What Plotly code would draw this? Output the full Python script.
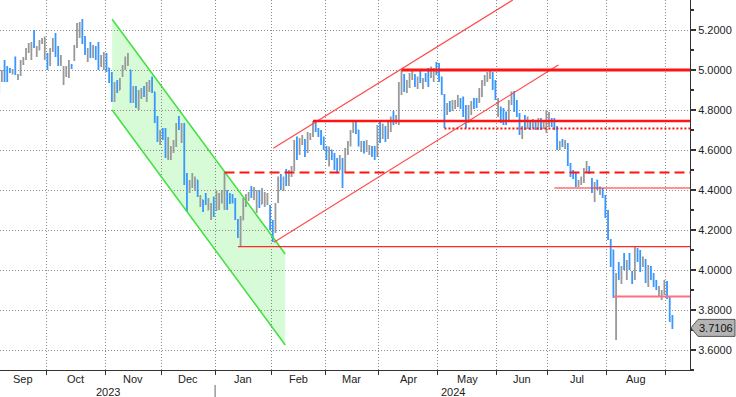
import pandas as pd
import plotly.graph_objects as go

# ---------------- data ----------------
holidays = ["2023-11-23", "2023-12-25", "2024-01-01", "2024-01-15", "2024-02-19",
            "2024-03-29", "2024-05-27", "2024-06-19", "2024-07-04", "2024-09-02"]
dates = pd.bdate_range("2023-09-06", "2024-09-05", freq="C", holidays=holidays)

bar_open = [
 4.90,4.95,5.04,5.01,5.005,4.98,5.06,4.955,4.975,5.03,5.06,5.09,5.06,5.19,5.07,5.10,5.135,5.06,
 5.08,5.03,5.10,5.18,5.10,5.03,4.94,4.97,4.97,5.025,5.05,5.12,5.17,5.25,5.165,5.05,5.13,5.07,5.11,5.13,5.02,5.03,
 5.08,5.01,4.98,4.86,4.94,4.90,4.97,5.01,5.03,5.00,4.84,4.91,4.82,4.86,4.915,4.86,4.90,4.96,4.89,4.76,4.63,
 4.70,4.70,4.56,4.56,4.59,4.62,4.765,4.64,4.73,4.48,4.39,4.42,4.40,4.45,4.32,4.35,4.38,4.30,4.26,4.36,
 4.30,4.32,4.34,4.32,4.39,4.38,4.37,4.35,4.25,4.15,4.25,4.33,4.35,4.415,4.37,4.29,4.39,4.33,4.32,4.33,4.32,
 4.24,4.19,4.34,4.475,4.40,4.50,4.43,4.475,4.50,4.66,4.58,4.63,4.65,4.59,4.655,4.68,4.735,4.705,4.69,4.66,
 4.615,4.53,4.60,4.565,4.55,4.50,4.555,4.50,4.595,4.63,4.69,4.73,4.70,4.60,4.64,4.595,4.58,4.615,4.61,4.57,
 4.72,4.66,4.715,4.66,4.70,4.79,4.74,4.75,4.88,4.975,4.89,4.93,4.955,4.975,4.91,4.99,4.91,4.98,4.99,4.965,4.95,5.035,
 5.03,4.96,4.875,4.78,4.84,4.80,4.815,4.82,4.855,4.86,4.80,4.74,4.78,4.855,4.85,4.84,4.87,4.93,4.95,4.96,4.98,4.94,
 4.775,4.81,4.795,4.78,4.745,4.83,4.88,4.82,4.78,4.665,4.765,4.71,4.745,4.715,4.745,4.705,4.75,4.71,4.70,
 4.745,4.755,4.75,4.715,4.605,4.65,4.61,4.63,4.53,4.495,4.485,4.42,4.43,4.44,4.49,4.515,4.455,4.36,4.45,4.38,4.405,4.37,
 4.27,4.15,4.10,3.88,4.035,3.935,4.07,3.96,4.08,3.99,3.955,4.105,4.09,4.02,4.05,3.92,4.015,3.98,3.945,3.87,3.86,3.88,
 3.94,3.86,3.77]
bar_high = [
 5.02,5.00,5.05,5.02,5.01,5.005,5.067,4.98,5.05,5.065,5.11,5.135,5.14,5.20,5.12,5.15,5.16,5.167,
 5.085,5.11,5.16,5.185,5.12,5.075,5.02,5.02,5.05,5.03,5.125,5.235,5.24,5.255,5.17,5.11,5.14,5.125,5.12,5.14,5.075,5.09,
 5.085,5.01,4.99,4.94,4.95,4.96,5.025,5.067,5.085,5.00,4.92,4.92,4.90,4.91,4.92,4.94,4.95,4.967,4.89,4.77,4.70,
 4.71,4.71,4.665,4.62,4.65,4.735,4.77,4.735,4.735,4.485,4.45,4.485,4.467,4.45,4.375,4.35,4.385,4.36,4.335,4.367,
 4.40,4.385,4.40,4.487,4.40,4.385,4.38,4.36,4.255,4.27,4.36,4.38,4.39,4.42,4.415,4.40,4.40,4.41,4.39,4.385,4.325,
 4.25,4.335,4.467,4.48,4.467,4.505,4.50,4.52,4.65,4.667,4.66,4.675,4.655,4.69,4.685,4.745,4.74,4.71,4.70,4.667,
 4.62,4.617,4.60,4.585,4.56,4.575,4.56,4.61,4.645,4.70,4.742,4.74,4.70,4.645,4.645,4.65,4.625,4.62,4.62,4.725,
 4.74,4.733,4.72,4.75,4.767,4.795,4.775,4.94,5.00,4.98,4.95,4.985,5.00,4.98,4.967,4.995,4.96,4.985,5.01,5.017,5.01,5.04,
 5.035,4.967,4.88,4.835,4.845,4.85,4.85,4.875,4.86,4.867,4.825,4.825,4.845,4.86,4.86,4.91,4.95,4.975,4.99,4.995,4.99,4.95,
 4.86,4.817,4.81,4.792,4.85,4.893,4.895,4.85,4.785,4.72,4.775,4.767,4.75,4.755,4.75,4.76,4.76,4.75,4.80,
 4.79,4.76,4.76,4.72,4.645,4.655,4.65,4.635,4.535,4.50,4.49,4.45,4.467,4.51,4.545,4.52,4.46,4.44,4.45,4.417,4.41,4.375,
 4.30,4.155,4.10,3.985,4.04,4.02,4.085,4.05,4.085,3.995,4.117,4.11,4.10,4.067,4.055,4.025,4.02,3.985,3.95,3.92,3.90,3.95,
 3.945,3.865,3.775]
bar_low = [
 4.88,4.94,4.94,4.94,4.985,4.98,4.975,4.95,4.97,5.025,5.05,5.085,5.05,5.11,5.065,5.10,5.13,5.05,
 5.00,5.02,5.09,5.065,5.02,5.02,4.925,4.965,4.96,5.005,5.045,5.11,5.16,5.13,5.075,5.04,5.06,5.06,5.05,5.00,5.015,5.00,
 4.99,4.935,4.84,4.84,4.885,4.90,4.965,5.00,5.02,4.835,4.835,4.81,4.80,4.855,4.865,4.84,4.89,4.885,4.735,4.64,4.625,
 4.65,4.56,4.55,4.55,4.585,4.615,4.70,4.635,4.425,4.29,4.385,4.41,4.40,4.365,4.315,4.29,4.325,4.30,4.25,4.265,
 4.295,4.30,4.333,4.30,4.30,4.33,4.333,4.25,4.16,4.12,4.25,4.315,4.345,4.36,4.35,4.285,4.31,4.33,4.315,4.325,4.20,
 4.14,4.185,4.335,4.40,4.395,4.42,4.42,4.465,4.495,4.55,4.575,4.625,4.565,4.585,4.65,4.665,4.69,4.665,4.625,4.60,
 4.55,4.517,4.55,4.50,4.483,4.50,4.41,4.49,4.575,4.617,4.685,4.68,4.617,4.59,4.583,4.59,4.575,4.565,4.55,4.565,
 4.635,4.655,4.64,4.655,4.69,4.725,4.73,4.725,4.875,4.89,4.885,4.91,4.95,4.915,4.905,4.935,4.905,4.94,4.915,4.96,4.94,4.975,
 4.94,4.875,4.71,4.775,4.79,4.795,4.805,4.815,4.805,4.765,4.71,4.735,4.775,4.805,4.81,4.835,4.865,4.92,4.94,4.955,4.90,4.85,
 4.765,4.735,4.725,4.725,4.74,4.825,4.79,4.765,4.675,4.655,4.70,4.705,4.70,4.71,4.70,4.70,4.70,4.705,4.685,
 4.715,4.715,4.70,4.60,4.60,4.615,4.605,4.52,4.465,4.455,4.415,4.415,4.425,4.435,4.485,4.48,4.385,4.34,4.40,4.375,4.36,4.26,
 4.15,4.015,3.86,3.65,3.95,3.93,4.00,3.95,4.00,3.93,3.95,4.04,3.99,4.015,3.935,3.915,3.95,3.915,3.90,3.865,3.85,3.875,
 3.855,3.74,3.705]
bar_close = [
 5.00,4.99,4.96,4.96,4.99,5.00,4.99,4.975,5.04,5.06,5.10,5.125,5.13,5.12,5.11,5.14,5.155,5.10,
 5.02,5.10,5.15,5.08,5.03,5.06,4.99,5.00,5.04,5.01,5.115,5.22,5.23,5.15,5.09,5.10,5.07,5.11,5.06,5.01,5.065,5.08,
 5.00,4.95,4.86,4.92,4.90,4.95,5.015,5.06,5.075,4.85,4.91,4.82,4.88,4.905,4.875,4.92,4.94,4.90,4.75,4.65,4.69,
 4.66,4.57,4.64,4.60,4.62,4.72,4.71,4.72,4.44,4.31,4.44,4.47,4.45,4.375,4.36,4.30,4.335,4.35,4.32,4.28,
 4.385,4.37,4.39,4.40,4.32,4.34,4.34,4.26,4.17,4.25,4.35,4.37,4.385,4.37,4.40,4.39,4.33,4.40,4.38,4.37,4.21,
 4.16,4.32,4.45,4.41,4.455,4.44,4.49,4.51,4.63,4.57,4.65,4.67,4.58,4.68,4.68,4.73,4.70,4.675,4.635,4.61,
 4.56,4.60,4.555,4.51,4.50,4.56,4.50,4.60,4.635,4.69,4.735,4.69,4.625,4.635,4.595,4.64,4.615,4.575,4.56,4.71,
 4.65,4.72,4.65,4.74,4.755,4.745,4.765,4.93,4.99,4.91,4.94,4.975,4.995,4.925,4.96,4.945,4.95,4.95,4.93,5.01,5.00,4.985,
 4.95,4.885,4.76,4.825,4.80,4.84,4.845,4.865,4.815,4.78,4.73,4.815,4.835,4.815,4.82,4.90,4.94,4.965,4.98,4.985,4.91,4.86,
 4.80,4.745,4.735,4.74,4.84,4.885,4.80,4.775,4.69,4.71,4.72,4.755,4.71,4.745,4.71,4.745,4.71,4.745,4.75,
 4.78,4.725,4.71,4.61,4.635,4.625,4.645,4.53,4.48,4.465,4.425,4.445,4.46,4.50,4.535,4.49,4.395,4.43,4.41,4.41,4.37,4.27,
 4.16,4.02,3.87,3.97,3.96,4.01,4.01,4.04,4.01,3.94,4.10,4.05,4.00,4.06,3.945,4.01,3.96,3.925,3.91,3.91,3.89,3.94,
 3.865,3.76,3.7106]

last_price = 3.7106

# drawn studies (index of trading day, price)
green_channel_x = [42.1, 106.65]
green_upper_y = [5.254, 4.08]
green_lower_y = [4.80, 3.625]
red_upper_x = [102.2, 191.5]
red_upper_y = [4.6085, 5.35]
red_lower_x = [102.45, 208.46]
red_lower_y = [4.1385, 5.025]
level_values = [5.0, 4.745, 4.708, 4.487, 4.41, 4.117, 3.867]
level_starts = [150, 117, 166, 84, 207, 89, 229]

month_labels = ["Sep", "Oct", "Nov", "Dec", "Jan", "Feb", "Mar", "Apr", "May", "Jun", "Jul", "Aug"]
year_labels = ["2023", "2024"]

# ---------------- figure ----------------
n = len(dates)
assert n == len(bar_open) == len(bar_high) == len(bar_low) == len(bar_close), (n, len(bar_open), len(bar_high), len(bar_low), len(bar_close))
x = list(range(n))

X0, X1 = 0.3, 257.56
Y0, Y1 = 3.5, 5.35
PLOT_W, PLOT_H = 690, 370
FONT = "Liberation Sans, Arial, sans-serif"

def px(i):
    return (i - X0) / (X1 - X0)

def py(v):
    return (v - Y0) / (Y1 - Y0)

bounds = [i - 0.5 for i in range(1, n) if dates[i].month != dates[i - 1].month]
jan_bound = [i - 0.5 for i in range(1, n) if dates[i].month == 1 and dates[i - 1].month == 12][0]

fig = go.Figure()
fig.add_trace(go.Ohlc(
    x=x, open=bar_open, high=bar_high, low=bar_low, close=bar_close,
    increasing=dict(line=dict(color="#999999", width=1.8)),
    decreasing=dict(line=dict(color="#3898ff", width=1.8)),
    tickwidth=0.3, hoverinfo="skip", showlegend=False,
))

shapes = []
# green channel fill + edges
gx0, gx1 = green_channel_x
shapes.append(dict(type="path", xref="x", yref="y", layer="below",
                   path=f"M {gx0},{green_upper_y[0]} L {gx1},{green_upper_y[1]} L {gx1},{green_lower_y[1]} L {gx0},{green_lower_y[0]} Z",
                   fillcolor="#d6fbd6", line=dict(width=0)))
for ys in (green_upper_y, green_lower_y):
    shapes.append(dict(type="line", xref="x", yref="y", x0=gx0, x1=gx1, y0=ys[0], y1=ys[1],
                       line=dict(color="#3fe03f", width=1.5), layer="above"))
# red channel
shapes.append(dict(type="line", xref="x", yref="y", x0=red_upper_x[0], x1=red_upper_x[1],
                   y0=red_upper_y[0], y1=red_upper_y[1], line=dict(color="#ff4a4a", width=1.2)))
shapes.append(dict(type="line", xref="x", yref="y", x0=red_lower_x[0], x1=red_lower_x[1],
                   y0=red_lower_y[0], y1=red_lower_y[1], line=dict(color="#ff4a4a", width=1.2)))
# horizontal levels
level_styles = [
    dict(color="#ff1414", width=3, dash="solid"),
    dict(color="#ff1414", width=2.6, dash="solid"),
    dict(color="#ff1414", width=2, dash="2px,2px"),
    dict(color="#ff1414", width=2, dash="10px,5px"),
    dict(color="#ff2828", width=1.1, dash="solid"),
    dict(color="#ff2828", width=1.3, dash="solid"),
    dict(color="#ff7080", width=2, dash="solid"),
]
for v, s, st in zip(level_values, level_starts, level_styles):
    shapes.append(dict(type="line", xref="x", yref="y", x0=s, x1=X1, y0=v, y1=v, line=st))

# last price tag (paper coords)
yc = py(last_price)
hh = 8.5 / PLOT_H
shapes.append(dict(type="path", xref="paper", yref="paper",
                   path=(f"M {691/PLOT_W},{yc} L {698/PLOT_W},{yc+hh} L {735/PLOT_W},{yc+hh} "
                         f"L {735/PLOT_W},{yc-hh} L {698/PLOT_W},{yc-hh} Z"),
                   fillcolor="#b4b4b4", line=dict(color="#555555", width=1)))
# year separator
shapes.append(dict(type="line", xref="paper", yref="paper", x0=px(jan_bound), x1=px(jan_bound),
                   y0=-15 / PLOT_H, y1=-27 / PLOT_H, line=dict(color="#666666", width=1)))

annotations = []
segs = [X0] + bounds + [X1]
for k, lab in enumerate(month_labels):
    a, b = max(segs[k], X0), min(segs[k + 1], X1)
    annotations.append(dict(x=px((a + b) / 2), y=0, xref="paper", yref="paper", text=lab,
                            showarrow=False, xanchor="center", yanchor="top", yshift=-1,
                            font=dict(size=11, color="#222222", family=FONT)))
for lab, (a, b) in zip(year_labels, [(X0, jan_bound), (jan_bound, X1)]):
    annotations.append(dict(x=px((a + b) / 2), y=0, xref="paper", yref="paper", text=lab,
                            showarrow=False, xanchor="center", yanchor="top", yshift=-14,
                            font=dict(size=11, color="#222222", family=FONT)))
annotations.append(dict(x=716 / PLOT_W, y=yc, xref="paper", yref="paper", text=f"{last_price:.4f}",
                        showarrow=False, xanchor="center", yanchor="middle",
                        font=dict(size=11, color="#111111", family=FONT)))

fig.update_layout(
    width=736, height=397,
    margin=dict(l=0, r=46, t=0, b=27),
    paper_bgcolor="white", plot_bgcolor="white",
    shapes=shapes, annotations=annotations,
    font=dict(family=FONT, size=11, color="#222222"),
    xaxis=dict(range=[X0, X1], tickvals=bounds, ticktext=[""] * len(bounds),
               ticks="outside", ticklen=4, tickcolor="#333333",
               showgrid=True, gridcolor="#8a8a8a", griddash="1px,2px", gridwidth=1,
               showline=True, linecolor="#333333", linewidth=1, zeroline=False,
               rangeslider=dict(visible=False), fixedrange=True),
    yaxis=dict(range=[Y0, Y1], side="right", dtick=0.2, tick0=0, tickformat=".4f",
               ticks="outside", ticklen=5, tickwidth=1.5, tickcolor="#333333",
               minor=dict(dtick=0.1, ticks="outside", ticklen=3, tickcolor="#333333"),
               showgrid=True, gridcolor="#8a8a8a", griddash="1px,2px", gridwidth=1,
               showline=True, linecolor="#333333", linewidth=1, zeroline=False,
               tickfont=dict(size=11, color="#222222"), fixedrange=True),
)

fig.write_html("out.html", config={"displayModeBar": False},
               post_script="document.body.style.margin='0';document.body.style.overflow='hidden';")
